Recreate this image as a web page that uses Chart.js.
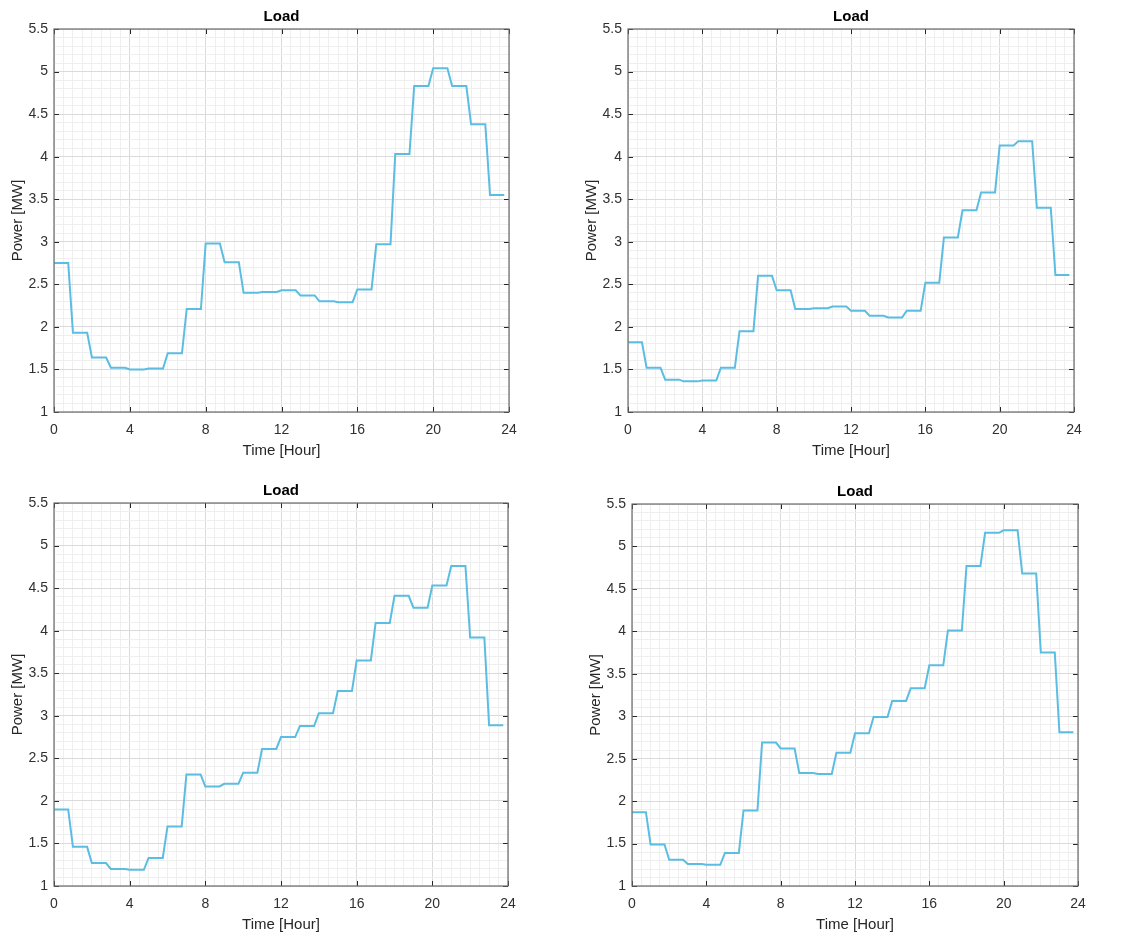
<!DOCTYPE html>
<html>
<head>
<meta charset="utf-8">
<script src="https://cdn.jsdelivr.net/npm/chart.js@4.4.1/dist/chart.umd.min.js"></script>
<style>
html,body{margin:0;padding:0;background:#fff;}
#wrap{position:relative;width:1139px;height:935px;background:#fff;}
canvas{position:absolute;left:0;top:0;}
</style>
</head>
<body>
<div id="wrap">
<canvas id="c1" width="1139" height="935"></canvas>
<canvas id="c2" width="1139" height="935"></canvas>
<canvas id="c3" width="1139" height="935"></canvas>
<canvas id="c4" width="1139" height="935"></canvas>
</div>
<script>
// ---- data ----
const hours = [0,1,2,3,4,5,6,7,8,9,10,11,12,13,14,15,16,17,18,19,20,21,22,23];
const load1 = [2.75,1.93,1.64,1.52,1.50,1.51,1.69,2.21,2.98,2.76,2.40,2.41,2.43,2.37,2.30,2.29,2.44,2.97,4.03,4.83,5.04,4.83,4.38,3.55];
const load2 = [1.82,1.52,1.38,1.36,1.37,1.52,1.95,2.60,2.43,2.21,2.22,2.24,2.19,2.13,2.11,2.19,2.52,3.05,3.37,3.58,4.13,4.18,3.40,2.61];
const load3 = [1.90,1.46,1.27,1.20,1.19,1.33,1.70,2.31,2.17,2.20,2.33,2.61,2.75,2.88,3.03,3.29,3.65,4.09,4.41,4.27,4.53,4.76,3.92,2.89];
const load4 = [1.87,1.49,1.31,1.26,1.25,1.39,1.89,2.69,2.62,2.33,2.32,2.57,2.80,2.99,3.18,3.33,3.60,4.01,4.77,5.16,5.19,4.68,3.75,2.81];
const xTickLabels = [0,4,8,12,16,20,24];
const yTickLabels = [1,1.5,2,2.5,3,3.5,4,4.5,5,5.5];
const titleText = 'Load';
const xTitle = 'Time [Hour]';
const yTitle = 'Power [MW]';
const holdFraction = 0.75; // each hourly value is held for 45 min, then ramps to the next

// ---- helpers ----
function stepTable(values){
  const pts = [];
  hours.forEach((h,i)=>{
    pts.push({x:h, y:values[i]});
    pts.push({x:h+holdFraction, y:values[i]});
  });
  return pts;
}
const near = (v, arr) => arr.some(t => Math.abs(t - v) < 1e-6);
const FONT = '"Liberation Sans", Arial, Helvetica, sans-serif';
const W = 1139, H = 935;

const decor = {
  id: 'decor',
  afterDraw(chart){
    const ctx = chart.ctx, a = chart.chartArea;
    const xs = chart.scales.x, ys = chart.scales.y;
    ctx.save();
    // inward tick marks on all four sides
    ctx.strokeStyle = '#262626';
    ctx.lineWidth = 1;
    ctx.beginPath();
    xTickLabels.forEach(v=>{
      const px = Math.round(xs.getPixelForValue(v)) + 0.5;
      ctx.moveTo(px, a.bottom); ctx.lineTo(px, a.bottom - 5);
      ctx.moveTo(px, a.top); ctx.lineTo(px, a.top + 5);
    });
    yTickLabels.forEach(v=>{
      const py = Math.round(ys.getPixelForValue(v)) + 0.5;
      ctx.moveTo(a.left, py); ctx.lineTo(a.left + 5, py);
      ctx.moveTo(a.right, py); ctx.lineTo(a.right - 5, py);
    });
    ctx.stroke();
    // box
    ctx.strokeStyle = '#6b6b6b';
    ctx.lineWidth = 1.2;
    ctx.strokeRect(a.left, a.top, a.right - a.left, a.bottom - a.top);
    // title
    const cx = (a.left + a.right) / 2;
    ctx.fillStyle = '#000';
    ctx.font = 'bold 15px ' + FONT;
    ctx.textAlign = 'center';
    ctx.textBaseline = 'middle';
    ctx.fillText(titleText, cx, a.top - 12);
    // x title
    ctx.fillStyle = '#262626';
    ctx.font = '15px ' + FONT;
    ctx.fillText(xTitle, cx, a.bottom + 39);
    // y title
    ctx.translate(a.left - 36, (a.top + a.bottom) / 2);
    ctx.rotate(-Math.PI / 2);
    ctx.fillText(yTitle, 0, 0);
    ctx.restore();
  }
};

function makeChart(id, values, area){
  new Chart(document.getElementById(id), {
    type: 'line',
    data: {
      datasets: [{
        data: stepTable(values),
        borderColor: '#5CBDE2',
        borderWidth: 2,
        pointRadius: 0,
        tension: 0,
        fill: false
      }]
    },
    options: {
      responsive: false,
      animation: false,
      devicePixelRatio: 1,
      layout: { padding: { left: 0, top: area.t, right: W - area.r, bottom: 0 } },
      plugins: { legend: {display:false}, tooltip: {enabled:false}, title: {display:false} },
      events: [],
      scales: {
        x: {
          type: 'linear', min: 0, max: 24,
          border: { display: false },
          grid: {
            drawTicks: false,
            lineWidth: 1,
            color: c => near(c.tick.value, xTickLabels) ? '#dadada' : '#efefef'
          },
          ticks: {
            stepSize: 0.5, autoSkip: false, maxRotation: 0,
            padding: 10, color: '#303030',
            font: { family: FONT, size: 14 },
            callback: v => near(v, xTickLabels) ? String(v) : ''
          },
          afterFit: s => { s.height = H - area.b; }
        },
        y: {
          type: 'linear', min: 1, max: 5.5,
          border: { display: false },
          grid: {
            drawTicks: false,
            lineWidth: 1,
            color: c => near(c.tick.value, yTickLabels) ? '#dadada' : '#efefef'
          },
          ticks: {
            stepSize: 0.1, autoSkip: false,
            padding: 6, color: '#303030',
            font: { family: FONT, size: 14 },
            callback: v => near(v, yTickLabels) ? String(Math.round(v*10)/10) : ''
          },
          afterFit: s => { s.width = area.l; }
        }
      }
    },
    plugins: [decor]
  });
}

makeChart('c1', load1, {l:54, t:29, r:509, b:412});
makeChart('c2', load2, {l:628, t:29, r:1074, b:412});
makeChart('c3', load3, {l:54, t:503, r:508, b:886});
makeChart('c4', load4, {l:632, t:504, r:1078, b:886});
</script>
</body>
</html>
